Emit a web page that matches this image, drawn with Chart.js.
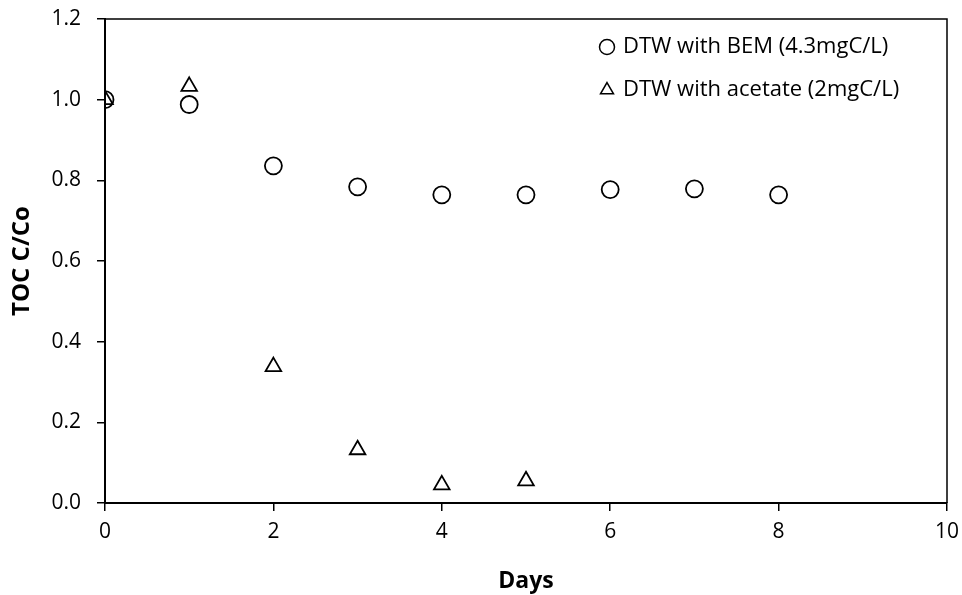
<!DOCTYPE html>
<html lang="en">
<head>
    <meta charset="UTF-8">
    <title>TOC C/Co</title>
    <style>
        html, body { margin: 0; padding: 0; background: #fff; }
        #wrap { width: 962px; height: 595px; position: relative; }
    </style>
</head>
<body>
    <div id="wrap">
        <canvas id="myChart" width="962" height="595"></canvas>
    </div>

    <script src="https://cdn.jsdelivr.net/npm/chart.js"></script>
    <script>
    // Data
    const days = [0, 1, 2, 3, 4, 5, 6, 7, 8];
    const bemValues = [1.0, 0.988, 0.836, 0.784, 0.764, 0.764, 0.777, 0.779, 0.764];
    const acetateDays = [0, 1, 2, 3, 4, 5];
    const acetateValues = [1.0, 1.033, 0.338, 0.132, 0.045, 0.055];
    const seriesLabels = ['DTW with BEM (4.3mgC/L)', 'DTW with acetate (2mgC/L)'];
    const xTicks = [0, 2, 4, 6, 8, 10];
    const yTicks = [0, 0.2, 0.4, 0.6, 0.8, 1.0, 1.2];

    const fontFamily = "'Open Sans', 'Liberation Sans', sans-serif";

    const toPoints = (xs, ys) => xs.map((x, i) => ({ x: x, y: ys[i] }));

    // top and right edges of the plot box
    const boxPlugin = {
        id: 'box',
        afterDraw(chart) {
            const { ctx, chartArea: a } = chart;
            ctx.save();
            ctx.strokeStyle = '#000';
            ctx.lineWidth = 1.5;
            ctx.beginPath();
            ctx.moveTo(a.left, a.top);
            ctx.lineTo(a.right, a.top);
            ctx.lineTo(a.right, a.bottom);
            ctx.stroke();
            ctx.restore();
        }
    };

    // legend inside the plot, top right
    const innerLegend = {
        id: 'innerLegend',
        afterDraw(chart) {
            const ctx = chart.ctx;
            const x0 = 607, y0 = 47, gap = 43;
            ctx.save();
            ctx.font = '22px ' + fontFamily;
            ctx.textBaseline = 'middle';
            chart.data.datasets.forEach((ds, i) => {
                const y = y0 + i * gap;
                ctx.strokeStyle = '#000';
                ctx.fillStyle = 'rgba(0,0,0,0)';
                ctx.lineWidth = 1.5;
                Chart.helpers.drawPoint(ctx, {
                    pointStyle: ds.pointStyle,
                    radius: 7.5,
                    borderWidth: 1.5
                }, x0, y);
                ctx.fillStyle = '#000';
                ctx.fillText(ds.label, x0 + 16, y);
            });
            ctx.restore();
        }
    };

    const ctx = document.getElementById('myChart').getContext('2d');
    new Chart(ctx, {
        type: 'scatter',
        data: {
            datasets: [
                {
                    label: seriesLabels[0],
                    data: toPoints(days, bemValues),
                    pointStyle: 'circle',
                    pointRadius: 8.5,
                    pointBorderWidth: 1.8,
                    borderColor: '#000',
                    backgroundColor: 'rgba(0,0,0,0)'
                },
                {
                    label: seriesLabels[1],
                    data: toPoints(acetateDays, acetateValues),
                    pointStyle: 'triangle',
                    pointRadius: 9,
                    pointBorderWidth: 1.8,
                    borderColor: '#000',
                    backgroundColor: 'rgba(0,0,0,0)'
                }
            ]
        },
        options: {
            responsive: false,
            animation: false,
            layout: { padding: { top: 19, right: 15, left: 0, bottom: 0 } },
            plugins: {
                legend: { display: false },
                tooltip: { enabled: false }
            },
            scales: {
                x: {
                    type: 'linear',
                    min: 0,
                    max: 10,
                    afterBuildTicks: s => { s.ticks = xTicks.map(v => ({ value: v })); },
                    afterFit: s => { s.height = 92; s.paddingLeft = 0; s.paddingRight = 0; },
                    border: { color: '#000', width: 2 },
                    grid: { drawOnChartArea: false, tickLength: 8, color: '#000', lineWidth: 1.5 },
                    ticks: { color: '#000', font: { family: fontFamily, size: 21 }, padding: 8 },
                    title: {
                        display: true,
                        text: 'Days',
                        color: '#000',
                        font: { family: fontFamily, size: 23, weight: 'bold' },
                        padding: { top: 6, bottom: 0 }
                    }
                },
                y: {
                    min: 0,
                    max: 1.2,
                    afterBuildTicks: s => { s.ticks = yTicks.map(v => ({ value: v })); },
                    afterFit: s => { s.width = 105; s.paddingTop = 0; s.paddingBottom = 0; },
                    border: { color: '#000', width: 2 },
                    grid: { drawOnChartArea: false, tickLength: 8, color: '#000', lineWidth: 1.5 },
                    ticks: {
                        color: '#000',
                        font: { family: fontFamily, size: 21 },
                        padding: 16,
                        callback: v => v.toFixed(1)
                    },
                    title: {
                        display: true,
                        text: 'TOC C/Co',
                        color: '#000',
                        font: { family: fontFamily, size: 24, weight: 'bold' },
                        padding: { top: 8, bottom: 0 }
                    }
                }
            }
        },
        plugins: [boxPlugin, innerLegend]
    });
    </script>
</body>
</html>
